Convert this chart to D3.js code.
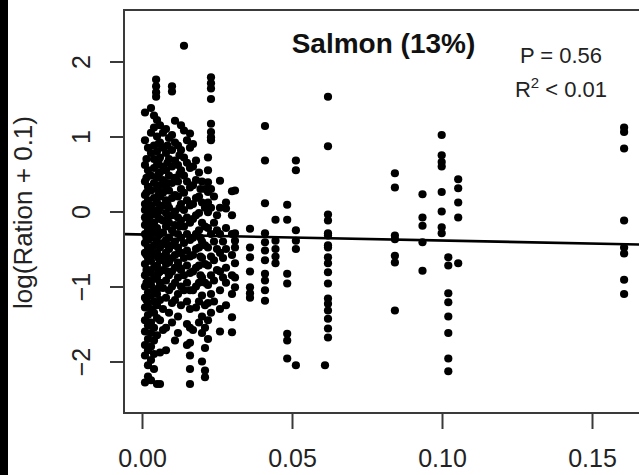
<!DOCTYPE html>
<html>
<head>
<meta charset="utf-8">
<script src="https://cdn.jsdelivr.net/npm/d3@7/dist/d3.min.js"></script>
<style>
  html, body { margin: 0; padding: 0; background: #fff; }
  svg { display: block; }
</style>
</head>
<body>
<svg id="chart" width="639" height="475"></svg>
<script>
// ---- data ----
const chartTitle = "Salmon (13%)";
const statP = "P = 0.56";
const xTicks = [0, 0.05, 0.10, 0.15];
const yTicks = [-2, -1, 0, 1, 2];
const fitIntercept = -0.307;
const fitSlope = -0.80;

// prey proportion for each column of points
const preyFraction = [
  0.001, 0.002, 0.003, 0.004, 0.0047, 0.005, 0.006, 0.007, 0.008, 0.009,
  0.010, 0.011, 0.012, 0.013, 0.014, 0.015, 0.016, 0.017, 0.018, 0.019,
  0.020, 0.021, 0.022, 0.023, 0.024, 0.026, 0.028, 0.030, 0.031, 0.036,
  0.041, 0.0445, 0.0484, 0.0513, 0.061, 0.062, 0.0843, 0.0935, 0.0999, 0.1021,
  0.1054, 0.1607,
  0.0015, 0.0055, 0.0085, 0.0125, 0.0195, 0.025, 0.027
];
// log(Ration + 0.1) values of the points in each column
const logRation = [
  [1.32, 0.95, 0.62, 0.40, 0.22, 0.10, 0.02, -0.08, -0.18, -0.30, -0.42, -0.55, -0.70, -0.85, -1.00, -1.15, -1.28, -1.45, -1.60, -1.78, -1.92, -2.28],
  [0.85, 0.55, 0.33, 0.15, -0.02, -0.12, -0.25, -0.38, -0.48, -0.62, -0.78, -0.92, -1.08, -1.22, -1.38, -1.52, -1.70, -1.85, -2.05, -2.20],
  [1.38, 1.05, 0.78, 0.48, 0.28, 0.08, -0.05, -0.20, -0.35, -0.52, -0.66, -0.82, -0.98, -1.12, -1.30, -1.48, -1.62, -1.80, -1.98, -2.25],
  [1.28, 1.12, 0.88, 0.70, 0.58, 0.38, 0.18, 0.02, -0.15, -0.28, -0.45, -0.58, -0.75, -0.90, -1.05, -1.20, -1.35, -1.55, -1.72, -1.90, -2.10],
  [1.76, 1.67, 1.59, 1.53],
  [1.22, 1.00, 0.80, 0.62, 0.45, 0.30, 0.12, -0.05, -0.22, -0.40, -0.55, -0.72, -0.88, -1.10, -1.25, -1.42, -1.65, -2.30],
  [1.15, 0.92, 0.72, 0.52, 0.35, 0.20, 0.05, -0.10, -0.30, -0.48, -0.65, -0.80, -0.95, -1.18, -1.45, -1.88, -2.30],
  [1.05, 0.85, 0.60, 0.42, 0.25, 0.08, -0.12, -0.28, -0.42, -0.60, -0.78, -1.02, -1.30, -1.58],
  [1.10, 0.78, 0.55, 0.32, 0.15, -0.02, -0.20, -0.38, -0.55, -0.70, -0.92, -1.15, -1.55, -1.85],
  [0.98, 0.70, 0.48, 0.28, 0.05, -0.15, -0.35, -0.50, -0.68, -0.85, -1.05, -1.35],
  [1.67, 1.60, 1.02, 0.82, 0.60, 0.38, 0.18, -0.05, -0.25, -0.45, -0.62, -0.80, -1.00, -1.22, -1.48],
  [1.21, 0.92, 0.68, 0.45, 0.22, 0.00, -0.18, -0.40, -0.58, -0.75, -0.95, -1.18, -1.72],
  [0.88, 0.62, 0.40, 0.20, -0.08, -0.30, -0.48, -0.68, -0.88, -1.10, -1.40, -1.62],
  [1.15, 0.82, 0.55, 0.30, 0.10, -0.12, -0.35, -0.55, -0.78, -1.00, -1.25],
  [2.21, 1.08, 0.72, 0.48, 0.25, 0.02, -0.20, -0.42, -0.62, -0.85, -1.05],
  [0.95, 0.65, 0.40, 0.15, -0.08, -0.30, -0.52, -0.72, -0.95, -1.20, -1.50, -1.78],
  [1.04, 0.85, 0.58, 0.32, 0.08, -0.15, -0.38, -0.60, -0.82, -1.05, -1.30, -1.55, -1.75, -1.92, -2.10, -2.30],
  [0.90, 0.60, 0.35, 0.10, -0.10, -0.35, -0.58, -0.80, -1.05, -1.58],
  [0.68, 0.42, 0.18, -0.05, -0.30, -0.50, -0.75, -1.00, -1.28],
  [0.52, 0.20, -0.02, -0.25, -0.48, -0.72, -0.95, -1.20, -1.48],
  [0.40, 0.12, -0.15, -0.40, -0.62, -0.88, -1.12, -1.40, -1.62, -2.00],
  [0.30, 0.05, -0.20, -0.45, -0.70, -0.95, -1.25, -1.55, -1.82, -2.12, -2.21],
  [0.72, 0.55, 0.39, 0.26, 0.12, -0.01, -0.22, -0.48, -0.72, -0.98, -1.22, -1.45, -1.70],
  [1.79, 1.71, 1.64, 1.50, 1.17, 1.06, 0.99, 0.95, 0.30, 0.05, -0.30, -0.60, -0.85, -1.10, -1.35],
  [0.20, -0.15, -0.40, -0.65, -0.92, -1.20],
  [0.41, 0.05, -0.30, -0.55, -0.80, -1.05, -1.30, -1.60],
  [0.12, 0.04, -0.22, -0.50, -0.75, -0.95, -1.25],
  [0.27, -0.05, -0.30, -0.58, -0.85, -1.10, -1.41, -1.61],
  [0.28, -0.29, -0.39, -0.48, -0.69, -0.88, -1.01],
  [-0.23, -0.48, -0.61, -0.80, -1.01, -1.09, -1.15],
  [1.14, 0.68, 0.11, -0.29, -0.41, -0.52, -0.65, -0.83, -0.92, -1.05, -1.19],
  [-0.11, -0.39, -0.50, -0.60, -0.69],
  [0.09, -0.11, -0.83, -0.96, -1.63, -1.72, -1.96],
  [0.68, 0.55, -0.25, -0.39, -0.50, -2.05],
  [-2.05],
  [1.53, 0.87, -0.04, -0.12, -0.29, -0.32, -0.45, -0.48, -0.61, -0.69, -0.81, -0.96, -1.16, -1.23, -1.32, -1.43, -1.56, -1.68],
  [0.51, 0.32, -0.32, -0.37, -0.59, -0.68, -1.32],
  [0.23, -0.08, -0.19, -0.41, -0.79],
  [1.02, 0.75, 0.66, 0.60, 0.26, 0.00, -0.21, -0.29],
  [-0.61, -0.72, -1.09, -1.21, -1.40, -1.62, -1.96, -2.13],
  [0.43, 0.31, 0.12, -0.08, -0.69],
  [1.12, 1.06, 0.84, -0.12, -0.48, -0.56, -0.91, -1.10],
  [0.70, 0.45, 0.25, 0.05, -0.15, -0.35, -0.58, -0.78, -0.95, -1.18],
  [0.90, 0.68, 0.50, 0.22, 0.00, -0.32, -0.62, -0.82, -1.02],
  [0.88, 0.65, 0.38, 0.10, -0.10, -0.45, -0.62, -0.80],
  [0.75, 0.50, 0.05, -0.20, -0.55, -0.75],
  [0.30, -0.35, -0.60, -0.85],
  [-0.05, -0.25, -0.50, -0.78],
  [-0.40, -0.62, -0.88]
];

// ---- layout ----
const W = 639, H = 475;
const box = { left: 124, top: 10, bottom: 413, right: 700 };
const svg = d3.select("#chart");
const FONT = "'Liberation Sans', Arial, Helvetica, sans-serif";

const x = d3.scaleLinear().domain([0, 0.15]).range([142, 592]);
const y = d3.scaleLinear().domain([-2, 2]).range([361.5, 61.5]);

const points = [];
preyFraction.forEach((px, i) => logRation[i].forEach(v => points.push([px, v])));

svg.append("rect").attr("width", W).attr("height", H).attr("fill", "#fff");
// black strip at the left edge
svg.append("rect").attr("x", 0).attr("y", 0).attr("width", 8).attr("height", H).attr("fill", "#000");

const plot = svg.append("g");
plot.selectAll("circle").data(points).join("circle")
  .attr("cx", d => x(d[0]))
  .attr("cy", d => y(d[1]))
  .attr("r", 4.1)
  .attr("fill", "#000");

// regression line
const xLo = x.invert(box.left), xHi = x.invert(W + 5);
plot.append("line")
  .attr("x1", x(xLo)).attr("y1", y(fitIntercept + fitSlope * xLo))
  .attr("x2", x(xHi)).attr("y2", y(fitIntercept + fitSlope * xHi))
  .attr("stroke", "#000").attr("stroke-width", 2.6);

// frame
svg.append("rect")
  .attr("x", box.left).attr("y", box.top)
  .attr("width", box.right - box.left).attr("height", box.bottom - box.top)
  .attr("fill", "none").attr("stroke", "#3a3a3a").attr("stroke-width", 2);

// x axis
const gx = svg.append("g").attr("transform", `translate(0,${box.bottom})`)
  .call(d3.axisBottom(x).tickValues(xTicks).tickFormat(d3.format(".2f")).tickSize(16).tickPadding(0));
gx.select(".domain").remove();
gx.selectAll(".tick line").attr("stroke", "#3a3a3a").attr("stroke-width", 2);
gx.selectAll(".tick text")
  .attr("y", 54).attr("dy", 0)
  .attr("fill", "#222")
  .style("font-family", FONT).style("font-size", "25px");

// y axis
const gy = svg.append("g").attr("transform", `translate(${box.left},0)`)
  .call(d3.axisLeft(y).tickValues(yTicks).tickFormat(d3.format("d")).tickSize(14).tickPadding(0));
gy.select(".domain").remove();
gy.selectAll(".tick line").attr("stroke", "#3a3a3a").attr("stroke-width", 2);
gy.selectAll(".tick text")
  .attr("x", 0).attr("dy", 0)
  .attr("transform", "translate(-34,0) rotate(-90)")
  .attr("text-anchor", "middle")
  .attr("fill", "#222")
  .style("font-family", FONT).style("font-size", "25px");

// y axis label
svg.append("text")
  .attr("transform", `translate(32,${(box.top + box.bottom) / 2 + 1}) rotate(-90)`)
  .attr("text-anchor", "middle")
  .attr("fill", "#222")
  .style("font-family", FONT).style("font-size", "26px")
  .text("log(Ration + 0.1)");

// title
svg.append("text")
  .attr("x", 383.5).attr("y", 53)
  .attr("text-anchor", "middle")
  .attr("fill", "#111")
  .style("font-family", FONT).style("font-size", "28px").style("font-weight", "bold")
  .text(chartTitle);

// stats
svg.append("text")
  .attr("x", 561).attr("y", 63)
  .attr("text-anchor", "middle")
  .attr("fill", "#222")
  .style("font-family", FONT).style("font-size", "22px")
  .text(statP);
const r2 = svg.append("text")
  .attr("x", 561).attr("y", 97)
  .attr("text-anchor", "middle")
  .attr("fill", "#222")
  .style("font-family", FONT).style("font-size", "22px");
r2.append("tspan").text("R");
r2.append("tspan").attr("dy", -9).style("font-size", "15px").text("2");
r2.append("tspan").attr("dy", 9).text(" < 0.01");
</script>
</body>
</html>
